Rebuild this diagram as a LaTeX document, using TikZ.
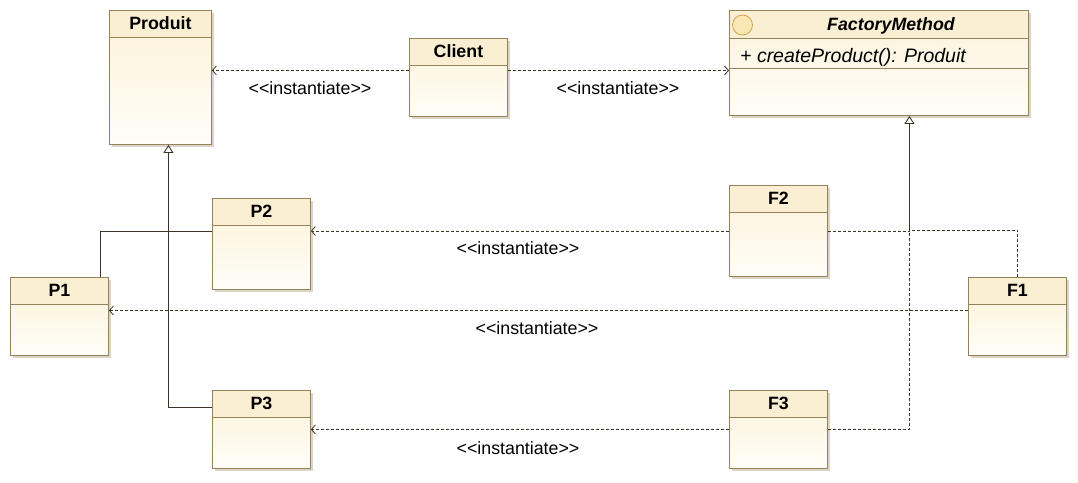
\documentclass[tikz,border=0pt]{standalone}
\usepackage{fontspec}
\setmainfont{Liberation Sans}
\usetikzlibrary{arrows.meta,shadows,calc}
\definecolor{bordc}{RGB}{150,130,88}
\definecolor{topc}{RGB}{251,242,216}
\definecolor{botc}{RGB}{255,253,248}
\definecolor{headc}{RGB}{250,239,211}
\definecolor{linec}{RGB}{60,52,38}
\definecolor{shadc}{RGB}{218,213,198}
\definecolor{iconfill}{RGB}{250,232,180}
\definecolor{iconbord}{RGB}{205,165,80}
\tikzset{
  umlbox/.style={draw=bordc, line width=0.9pt, top color=topc, bottom color=botc,
    inner sep=0pt, anchor=north west,
    drop shadow={shadow xshift=2.5pt, shadow yshift=-2.5pt, fill=shadc, opacity=1}},
  bordline/.style={draw=bordc, line width=0.9pt},
  titlef/.style={font=\fontsize{17.8}{20}\selectfont\bfseries, inner sep=0pt, anchor=base},
  lbl/.style={font=\fontsize{17.8}{20}\selectfont, inner sep=0pt, anchor=base},
  methf/.style={font=\fontsize{19.5}{22}\selectfont\itshape, inner sep=0pt, anchor=base west},
  dep/.style={draw=linec, line width=0.8pt, dash pattern=on 3pt off 2pt,
    -{Straight Barb[length=4pt,width=9pt,line width=0.8pt]}},
  depline/.style={draw=linec, line width=0.8pt, dash pattern=on 3pt off 2pt},
  genline/.style={draw=linec, line width=0.9pt},
  gen/.style={draw=linec, line width=0.9pt, -{Triangle[open,length=8pt,width=10pt,fill=white]}}
}
\newcommand\umlclass[7]{%
  \node[umlbox, minimum width=#4pt, minimum height=#5pt] (#1) at (#2,#3) {};
  \fill[headc] (#1.north west) rectangle ([yshift=-#6pt]#1.north east);
  \draw[bordline] (#1.north west) rectangle (#1.south east);
  \draw[bordline] ([yshift=-#6pt]#1.north west) -- ([yshift=-#6pt]#1.north east);
  \node[titlef] (#1-t) at ($(#1.north)+(0,{#6/2+6.4})$) {#7};
}
\newcommand\inst{<{}<instantiate>{}>}
\begin{document}
\begin{tikzpicture}[x=1pt,y=-1pt]
\fill[white] (0,0) rectangle (1078,482);
\useasboundingbox (0,0) rectangle (1078,482);

% classes
\umlclass{Produit}{109}{10}{102}{134}{27}{Produit}
\umlclass{Client}{409}{38}{98}{78}{27}{Client}
\umlclass{P2}{212}{198}{98}{91}{27}{P2}
\umlclass{P1}{10}{277}{98}{78}{27}{P1}
\umlclass{P3}{212}{390}{98}{78}{27}{P3}
\umlclass{F2}{729}{185}{98}{91}{27}{F2}
\umlclass{F1}{968}{277}{98}{78}{27}{F1}
\umlclass{F3}{729}{390}{98}{78}{27}{F3}

% FactoryMethod
\node[umlbox, minimum width=299pt, minimum height=105pt] (FM) at (729,10) {};
\fill[headc] (FM.north west) rectangle ([yshift=-28pt]FM.north east);
\draw[bordline] (FM.north west) rectangle (FM.south east);
\draw[bordline] ([yshift=-28pt]FM.north west) -- ([yshift=-28pt]FM.north east);
\draw[bordline] ([yshift=-58pt]FM.north west) -- ([yshift=-58pt]FM.north east);
\node[circle, draw=iconbord, fill=iconfill, line width=0.8pt, minimum size=20pt, inner sep=0pt] (FMicon) at (742.5,25) {};
\node[titlef, font=\fontsize{17.8}{20}\selectfont\bfseries\itshape] (FM-t) at (891,30.4) {FactoryMethod};
\node[methf] (FM-m) at (740,62) {+ createProduct(): Produit};

% Client dependencies
\coordinate (cw) at ([yshift=7pt]Client.west);
\coordinate (ce) at ([yshift=7pt]Client.east);
\draw[dep] (cw) -- (cw -| Produit.east);
\draw[dep] (ce) -- (ce -| FM.west);
\node[lbl] (l1) at (310,94) {\inst};
\node[lbl] (l2) at (618,94) {\inst};

% Produit generalization tree
\coordinate (ptip) at ([xshift=8pt]Produit.south);
\coordinate (p3j) at ([yshift=22pt]P3.west);
\draw[gen] (p3j) -| (ptip);
\draw[genline] ([xshift=41pt]P1.north) |- ([yshift=13pt]P2.west);

% FactoryMethod generalization tree
\coordinate (ftip) at ([xshift=30.5pt]FM.south);
\coordinate (fmj) at (ftip |- F2.east);
\draw[gen] (fmj) -- (ftip);
\draw[depline] (F3.east) -| (fmj);
\draw[depline] (F2.east) -- (fmj);
\draw[depline] (F1.north) |- ([yshift=1pt]fmj);

% instantiate dependencies
\draw[dep] (F2.west) -- (F2.west -| P2.east);
\coordinate (f1w) at ([yshift=6pt]F1.west);
\draw[dep] (f1w) -- (f1w -| P1.east);
\draw[dep] (F3.west) -- (F3.west -| P3.east);
\node[lbl] (l3) at (518,254) {\inst};
\node[lbl] (l4) at (537,334) {\inst};
\node[lbl] (l5) at (518,454) {\inst};
\end{tikzpicture}
\end{document}
